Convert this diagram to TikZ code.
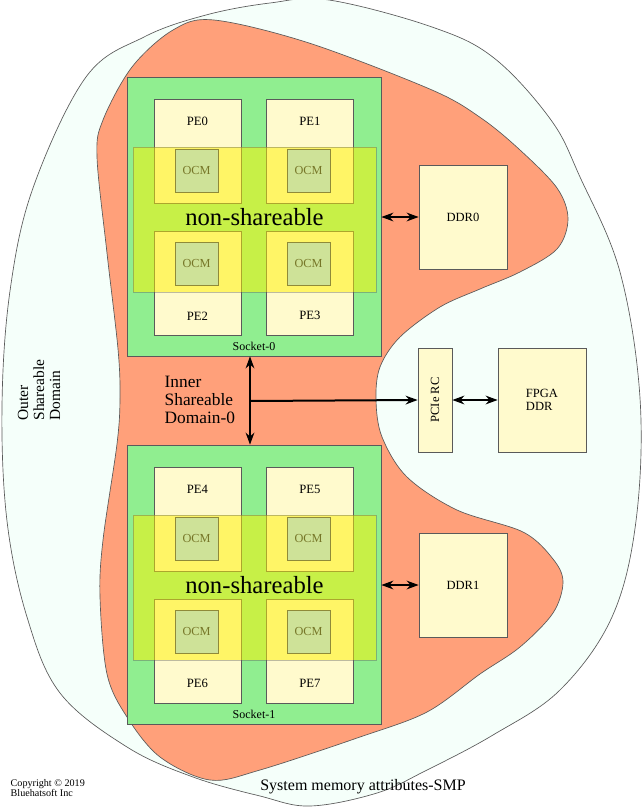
\documentclass[tikz,border=0pt]{standalone}
\usepackage{fontspec}
\setmainfont{Liberation Serif}
\usetikzlibrary{arrows.meta,positioning}

\definecolor{outerdom}{RGB}{245,255,250}
\definecolor{innerdom}{RGB}{255,160,122}
\definecolor{socketgreen}{RGB}{144,238,144}
\definecolor{pefill}{RGB}{255,250,205}
\definecolor{ocmfill}{RGB}{206,226,152}
\definecolor{ocmtext}{RGB}{118,118,40}
\definecolor{edge}{RGB}{90,90,90}

\tikzset{
	basic/.style   = {draw=edge, line width=0.5pt, rectangle, inner sep=0pt},
	socket/.style  = {basic, fill=socketgreen, minimum width=190.5pt, minimum height=209.25pt},
	pe/.style      = {basic, fill=pefill, minimum width=65.25pt, minimum height=78pt},
	petop/.style   = {anchor=center, yshift=-17.25pt, font=\fontsize{9.5}{11}\selectfont},
	pebot/.style   = {anchor=center, yshift=15pt, font=\fontsize{9.5}{11}\selectfont},
	nonshare/.style = {basic, fill=yellow, fill opacity=0.5, draw opacity=0.4, text opacity=1,
		minimum width=182.25pt, minimum height=108.75pt, text depth=4pt, font=\fontsize{18.5}{20}\selectfont},
	ocm/.style     = {basic, draw=olive!60!gray, fill=ocmfill, text=ocmtext,
		minimum width=32.25pt, minimum height=32.25pt, font=\fontsize{9.2}{11}\selectfont},
	memory/.style  = {basic, fill=pefill, minimum width=66pt, minimum height=78pt, align=left,
		font=\fontsize{9.4}{10}\selectfont},
	sockettext/.style = {font=\fontsize{9}{11}\selectfont},
	link/.style    = {line width=1.5pt, {Stealth[length=9pt,width=6.5pt]}-{Stealth[length=9pt,width=6.5pt]}},
	uplink/.style  = {line width=1.5pt, -{Stealth[length=9pt,width=6.5pt]}}
}

\begin{document}
\begin{tikzpicture}[x=0.75pt, y=-0.75pt]
	\useasboundingbox (0,0) rectangle (642,807);
	
	% outer shareable domain
	\draw[draw=edge, line width=0.5pt, fill=outerdom] plot[smooth cycle, tension=0.6] coordinates {
		(329,0) (432,27) (494,58) (551,120) (580,177) (620,272) (640,398) (636,521) (612,617)
		(560,690) (493,735) (427,770) (377,793) (310,806) (260,796) (193,777) (127,747) (60,693)
		(27,617) (7,521) (2,406) (10,291) (33,188) (86,77) (144,37) (206,15) (270,3)};
	
	% inner shareable domain
	\draw[draw=edge, line width=0.5pt, fill=innerdom] plot[smooth cycle, tension=0.55] coordinates {
		(214,20) (309,43) (432,90) (481,118) (520,150) (557,188) (568,219) (557,249) (520,272)
		(480,289) (440,307) (400,337) (380,367) (376,400) (382,437) (407,477) (457,510) (523,532)
		(553,559) (563,582) (553,613) (520,647) (480,674) (427,712) (360,737) (260,770) (210,780)
		(160,757) (127,717) (107,674) (100,597) (103,540) (117,444) (120,398) (118,349) (107,253)
		(97,157) (103,120) (132,67) (173,30)};
	
	% the two sockets with their PEs
	\foreach \s in {0,1} {
		\pgfmathsetmacro{\dy}{368*\s}
		\pgfmathtruncatemacro{\pa}{4*\s}
		\pgfmathtruncatemacro{\pb}{4*\s+1}
		\pgfmathtruncatemacro{\pc}{4*\s+2}
		\pgfmathtruncatemacro{\pd}{4*\s+3}
		\node[socket] (s\s) at (254,216.5+\dy) {};
		\node[sockettext] (s\s text) at (254,346+\dy) {Socket-\s};
		
		\node[pe, label={[petop]north:PE\pa}] (pe\pa) at (197.5,151+\dy) {};
		\node[pe, label={[petop]north:PE\pb}] (pe\pb) at (310,151+\dy) {};
		\node[pe, label={[pebot]south:PE\pc}] (pe\pc) at (197.5,283.5+\dy) {};
		\node[pe, label={[pebot]south:PE\pd}] (pe\pd) at (310,283.5+\dy) {};
		
		\node[nonshare] (ns\s) at (254.5,219.5+\dy) {non-shareable};
		
		\node[ocm] (ocm\pa) at (196.5,170.5+\dy) {OCM};
		\node[ocm] (ocm\pb) at (308.5,170.5+\dy) {OCM};
		\node[ocm] (ocm\pc) at (196.5,263.5+\dy) {OCM};
		\node[ocm] (ocm\pd) at (308.5,263.5+\dy) {OCM};
		
		\node[memory] (ddr\s) at (463,217+\dy) {DDR\s};
	}
	
	% PCIe and FPGA memory
	\node[memory, minimum width=78pt, minimum height=25.5pt, rotate=90] (pcie) at (435,400) {PCIe RC};
	\node[memory] (fpga) at (542,400) {FPGA\\DDR};
	
	% texts
	\node[anchor=west, align=left, font=\fontsize{13}{13.5}\selectfont] (inner) at (160,400)
		{Inner\\Shareable\\Domain-0};
	\node[rotate=90, align=left, font=\fontsize{11.6}{12}\selectfont] (outer) at (39,390)
		{Outer\\Shareable\\Domain};
	\node[font=\fontsize{12}{14}\selectfont] (title) at (363,787) {System memory attributes-SMP};
	\node[anchor=west, align=left, font=\fontsize{7.6}{7.6}\selectfont] (copy) at (6,788)
		{Copyright \textcopyright{} 2019\\Bluehatsoft Inc};
	
	% connectors
	\coordinate (bus) at (250,401);
	\draw[link] (bus |- s0.south) -- (bus |- s1.north);
	\draw[uplink] (bus) -- (pcie.north);
	\draw[link] (pcie.south) -- (fpga.west);
	\foreach \s in {0,1}
	\draw[link] (s\s.east |- ddr\s.west) -- (ddr\s.west);
	
\end{tikzpicture}
\end{document}
